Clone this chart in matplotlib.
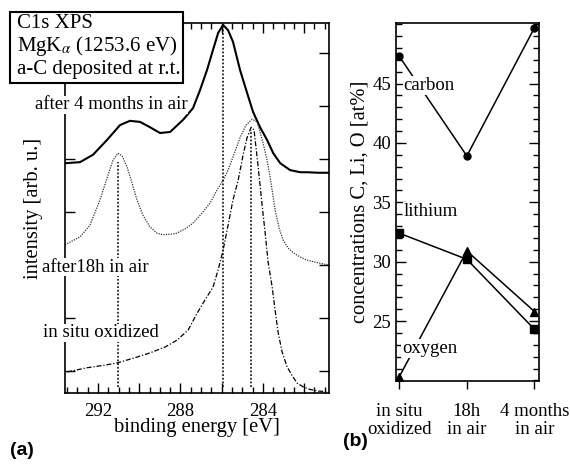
import matplotlib
matplotlib.use("Agg")
import matplotlib.pyplot as plt
from matplotlib.patches import Rectangle
from matplotlib.ticker import MultipleLocator, FuncFormatter, FixedLocator

plt.rcParams['font.family'] = ['Liberation Serif', 'DejaVu Serif']
plt.rcParams['mathtext.fontset'] = 'stix'
plt.rcParams['font.size'] = 13.5

# (a) C1s spectra: binding energy [eV] / intensity [arb. u.]
e_4months = [293.60, 292.87, 292.24, 291.56, 290.93, 290.45, 289.96, 289.48, 288.99, 288.50,
             287.87, 287.39, 287.05, 286.71, 286.42, 286.17, 285.93, 285.69, 285.45, 285.11,
             284.77, 284.48, 284.14, 283.80, 283.50, 283.16, 282.68, 282.19, 281.85, 281.32, 280.83]
i_4months = [3.92, 3.94, 4.08, 4.36, 4.64, 4.72, 4.70, 4.60, 4.49, 4.51,
             4.74, 4.96, 5.30, 5.68, 6.06, 6.38, 6.53, 6.43, 6.21, 5.68,
             5.25, 4.89, 4.60, 4.36, 4.11, 3.92, 3.79, 3.75, 3.75, 3.74, 3.74]

e_18h = [293.60, 292.87, 292.39, 291.90, 291.56, 291.27, 291.03, 290.83, 290.59, 290.35,
         290.11, 289.82, 289.48, 289.14, 288.84, 288.50, 288.17, 287.78, 287.39, 286.95,
         286.56, 286.22, 285.93, 285.69, 285.45, 285.11, 284.82, 284.52, 284.28, 283.99,
         283.80, 283.65, 283.41, 283.22, 283.02, 282.78, 282.53, 282.19, 281.85, 281.32, 280.83]
i_18h = [2.38, 2.53, 2.75, 3.23, 3.64, 3.98, 4.11, 4.06, 3.85, 3.55,
         3.23, 2.94, 2.72, 2.60, 2.57, 2.58, 2.60, 2.68, 2.79, 2.98,
         3.17, 3.42, 3.60, 3.79, 4.04, 4.40, 4.64, 4.75, 4.70, 4.30,
         3.98, 3.66, 3.04, 2.70, 2.47, 2.32, 2.23, 2.15, 2.09, 2.04, 2.00]

e_insitu = [293.50, 292.53, 291.66, 291.08, 290.20, 289.48, 288.75, 288.17, 287.63, 287.19,
            286.81, 286.42, 286.17, 285.93, 285.69, 285.45, 285.20, 284.96, 284.77, 284.57,
            284.43, 284.23, 284.04, 283.89, 283.75, 283.55, 283.41, 283.26, 283.07, 282.83,
            282.58, 282.34, 282.05, 281.71, 281.32, 280.88]
i_insitu = [-0.02, 0.06, 0.11, 0.15, 0.25, 0.34, 0.45, 0.58, 0.77, 1.09,
            1.34, 1.58, 1.91, 2.28, 2.75, 3.23, 3.60, 4.08, 4.40, 4.60,
            4.55, 3.85, 3.13, 2.60, 2.06, 1.58, 1.15, 0.72, 0.36, 0.08,
            -0.09, -0.23, -0.30, -0.35, -0.38, -0.39]

# peak positions marked by vertical dotted lines (energy, top of line)
peak_e = [291.03, 285.93, 284.57]
peak_top = [3.95, 6.50, 4.55]

# (b) concentrations [at%]
stages = ["in situ\noxidized", "18h\nin air", "4 months\nin air"]
carbon = [47.3, 38.9, 49.7]
lithium = [32.4, 30.2, 24.3]
oxygen = [20.3, 30.9, 25.8]
conc_ticks = [25, 30, 35, 40, 45]

fig = plt.figure(figsize=(5.7, 4.65), dpi=100)

# ---------- panel (a) ----------
ax = fig.add_axes([0.114, 0.155, 0.463, 0.7955])
ax.plot(e_4months, i_4months, color="black", lw=1.5)
ax.plot(e_18h, i_18h, color="#333333", lw=0.9, linestyle=(0, (1, 1)))
ax.plot(e_insitu, i_insitu, color="black", lw=0.9, linestyle=(0, (4, 1.5, 1, 1.5)))
for e, top in zip(peak_e, peak_top):
    ax.plot([e, e], [-0.30, top], color="black", lw=1.1, linestyle=(0, (1.2, 1.2)))

ax.set_xlim(293.6, 280.8)
ax.set_ylim(-0.415, 6.566)
ax.xaxis.set_major_locator(MultipleLocator(2))
ax.xaxis.set_minor_locator(MultipleLocator(0.5))
ax.xaxis.set_major_formatter(FuncFormatter(lambda v, p: f"{v:.0f}" if round(v) % 4 == 0 else ""))
ax.yaxis.set_major_locator(MultipleLocator(1))
ax.yaxis.set_major_formatter(FuncFormatter(lambda v, p: ""))
ax.tick_params(which="both", direction="in", top=True, right=True, width=1.0)
ax.tick_params(which="major", length=7)
ax.tick_params(which="minor", length=4)
ax.tick_params(axis="x", pad=7)
for s in ax.spines.values():
    s.set_linewidth(1.2)
ax.set_xlabel("binding energy [eV]", fontsize=14.8, labelpad=-1)
ax.set_ylabel("intensity [arb. u.]", fontsize=14.8, labelpad=12)

lbl = dict(ha="left", va="center", clip_on=False, zorder=5,
           bbox=dict(facecolor="white", edgecolor="none", pad=0.5))
ax.text(295.06, 5.02, "after 4 months in air", **lbl)
ax.text(294.72, 1.96, "after18h in air", **lbl)
ax.text(294.67, 0.72, "in situ oxidized", **lbl)

# info box
fig.add_artist(Rectangle((10 / 570, 1 - 83 / 465), 173 / 570, 71 / 465,
                         transform=fig.transFigure, facecolor="white",
                         edgecolor="black", lw=1.5, zorder=5))
for k, t in enumerate(["C1s XPS", r"MgK$_{\alpha}$ (1253.6 eV)", "a-C deposited at r.t."]):
    fig.text(17 / 570, 1 - (24 + 22.5 * k) / 465, t, ha="left", va="center",
             fontsize=15, zorder=6)

# ---------- panel (b) ----------
bx = fig.add_axes([0.695, 0.1806, 0.251, 0.770])
x = list(range(len(stages)))
bx.plot(x, carbon, color="black", lw=1.1, marker="o", ms=5)
bx.plot(x, lithium, color="black", lw=1.1, marker="s", ms=5.5)
bx.plot(x, oxygen, color="black", lw=1.1, marker="^", ms=5.5)
bx.set_xlim(-0.045, 2.07)
bx.set_ylim(19.95, 50.1)
bx.set_xticks(x)
bx.set_xticklabels(stages, linespacing=1.05)
bx.yaxis.set_major_locator(FixedLocator(conc_ticks))
bx.yaxis.set_minor_locator(MultipleLocator(1))
bx.tick_params(axis="y", which="both", direction="in", right=True, width=1.0)
bx.tick_params(axis="y", which="major", length=7)
bx.tick_params(axis="y", which="minor", length=4)
bx.tick_params(axis="x", direction="out", length=6, width=1.0, pad=10)
for s in bx.spines.values():
    s.set_linewidth(1.2)
bx.set_ylabel("concentrations C, Li, O [at%]", fontsize=14.8, labelpad=2)

blbl = dict(ha="left", va="center", zorder=5,
            bbox=dict(facecolor="white", edgecolor="none", pad=0.5))
bx.text(0.06, 44.83, "carbon", **blbl)
bx.text(0.06, 34.24, "lithium", **blbl)
bx.text(0.045, 22.7, "oxygen", **blbl)

# panel letters
fig.text(10 / 570, 1 - 450 / 465, "(a)", family="Liberation Sans", weight="bold",
         ha="left", va="center", fontsize=14)
fig.text(343 / 570, 1 - 441 / 465, "(b)", family="Liberation Sans", weight="bold",
         ha="left", va="center", fontsize=14)

fig.savefig("out.png", dpi=100)
